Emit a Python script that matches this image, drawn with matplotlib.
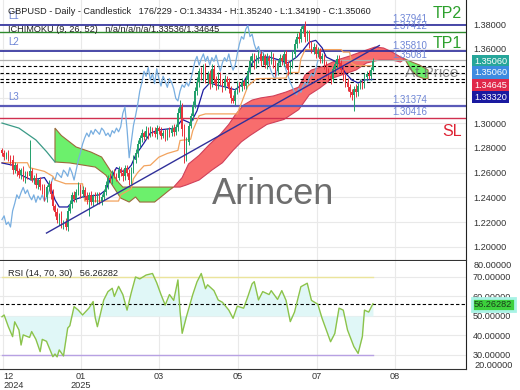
import numpy as np
import matplotlib
matplotlib.use("Agg")
import matplotlib.pyplot as plt

plt.rcParams['font.family'] = ['Liberation Sans', 'DejaVu Sans']

# GBPUSD daily closes, visible window (176 bars)
closes = [
    1.2760, 1.2730, 1.2750, 1.2720, 1.2700, 1.2620, 1.2660, 1.2610, 1.2580, 1.2620,
    1.2550, 1.2590, 1.2570, 1.2610, 1.2540, 1.2560, 1.2500, 1.2540, 1.2480, 1.2470,
    1.2400, 1.2480, 1.2510, 1.2430, 1.2330, 1.2280, 1.2220, 1.2250, 1.2180, 1.2200,
    1.2160, 1.2290, 1.2350, 1.2420, 1.2390, 1.2440, 1.2480, 1.2430, 1.2460, 1.2410,
    1.2380, 1.2420, 1.2360, 1.2410, 1.2380, 1.2420, 1.2370, 1.2400, 1.2440, 1.2500,
    1.2560, 1.2540, 1.2600, 1.2580, 1.2560, 1.2620, 1.2600, 1.2570, 1.2640, 1.2600,
    1.2540, 1.2620, 1.2700, 1.2760, 1.2830, 1.2880, 1.2920, 1.2890, 1.2940, 1.2910,
    1.2950, 1.2930, 1.2910, 1.2960, 1.2940, 1.2900, 1.2920, 1.2890, 1.2940, 1.2920,
    1.2960, 1.2930, 1.2970, 1.3080, 1.3130, 1.2950, 1.2720, 1.2850, 1.2980, 1.3060,
    1.3150, 1.3260, 1.3330, 1.3420, 1.3380, 1.3450, 1.3350, 1.3400, 1.3320, 1.3440,
    1.3360, 1.3300, 1.3380, 1.3340, 1.3290, 1.3360, 1.3330, 1.3280, 1.3200, 1.3180,
    1.3260, 1.3310, 1.3290, 1.3330, 1.3300, 1.3350, 1.3420, 1.3500, 1.3540, 1.3470,
    1.3520, 1.3560, 1.3500, 1.3540, 1.3470, 1.3530, 1.3500, 1.3550, 1.3480, 1.3420,
    1.3490, 1.3530, 1.3500, 1.3560, 1.3480, 1.3430, 1.3470, 1.3560, 1.3640, 1.3700,
    1.3680, 1.3760, 1.3790, 1.3700, 1.3720, 1.3640, 1.3590, 1.3620, 1.3560, 1.3580,
    1.3520, 1.3540, 1.3470, 1.3420, 1.3380, 1.3360, 1.3440, 1.3480, 1.3520, 1.3490,
    1.3430, 1.3380, 1.3330, 1.3290, 1.3250, 1.3230, 1.3280, 1.3250, 1.3300, 1.3330,
    1.3310, 1.3370, 1.3400, 1.3380, 1.3433, 1.3506,
]
first_open = 1.2780

# wick lengths in pips above / below the body
up_wick = [
    20, 25, 15, 30, 20, 40, 25, 20, 30, 15, 35, 20, 25, 250, 30, 20, 35, 15, 25, 30,
    40, 20, 30, 25, 35, 20, 30, 25, 40, 20, 35, 30, 25, 20, 35, 30, 40, 25, 30, 20,
    30, 25, 35, 20, 30, 25, 20, 30, 25, 35, 20, 40, 25, 30, 20, 35, 25, 30, 20, 25,
    30, 25, 40, 30, 35, 25, 30, 20, 35, 25, 30, 20, 35, 25, 20, 30, 25, 35, 20, 30,
    25, 30, 20, 40, 60, 30, 40, 35, 30, 25, 30, 35, 40, 30, 35, 30, 40, 25, 30, 35,
    30, 25, 35, 30, 20, 30, 25, 35, 20, 30, 25, 30, 20, 35, 25, 30, 35, 40, 30, 25,
    30, 35, 25, 30, 20, 35, 25, 30, 20, 35, 25, 30, 20, 35, 30, 25, 30, 35, 40, 30,
    35, 30, 5, 40, 30, 35, 25, 30, 20, 35, 25, 30, 20, 35, 25, 30, 20, 25, 30, 35,
    25, 30, 20, 35, 25, 30, 20, 35, 25, 30, 20, 35, 25, 30, 20, 18,
]
down_wick = [
    25, 30, 20, 25, 35, 30, 20, 35, 25, 30, 20, 35, 25, 30, 20, 35, 25, 30, 20, 40,
    30, 35, 25, 40, 30, 35, 25, 40, 30, 35, 25, 30, 20, 35, 25, 30, 20, 35, 25, 30,
    30, 130, 25, 30, 20, 35, 25, 30, 20, 25, 30, 20, 35, 25, 30, 20, 25, 35, 30, 25,
    40, 30, 25, 20, 30, 25, 35, 30, 20, 35, 25, 30, 20, 35, 25, 30, 20, 35, 25, 30,
    20, 35, 25, 30, 40, 50, 40, 30, 25, 20, 35, 25, 30, 40, 30, 35, 25, 30, 40, 30,
    35, 30, 25, 30, 35, 25, 30, 35, 40, 20, 30, 25, 35, 30, 25, 20, 30, 25, 35, 30,
    25, 30, 35, 30, 25, 30, 35, 25, 30, 40, 30, 25, 30, 35, 30, 40, 30, 25, 30, 35,
    30, 25, 30, 40, 35, 30, 25, 30, 35, 25, 30, 35, 30, 40, 35, 40, 30, 25, 30, 35,
    30, 35, 40, 30, 35, 40, 130, 35, 30, 25, 30, 25, 30, 25, 30, 14,
]

# Ichimoku (9, 26, 52) lines, read at bar positions
tenkan_x = [0, 5, 9, 14, 20, 23, 25, 27, 31, 34, 38, 46, 49, 51, 54, 58, 61, 63, 67, 70,
            74, 82, 85, 89, 92, 95, 98, 101, 106, 110, 113, 116, 118, 121, 126, 131, 135,
            139, 142, 145, 148, 151, 153, 156, 159, 162, 165, 168, 171, 175]
tenkan = [1.2678, 1.2660, 1.2580, 1.2540, 1.2560, 1.2480, 1.2380, 1.2322, 1.2322, 1.2380,
          1.2403, 1.2420, 1.2460, 1.2540, 1.2640, 1.2600, 1.2660, 1.2740, 1.2840, 1.2920,
          1.2945, 1.2960, 1.3030, 1.3000, 1.3100, 1.3270, 1.3325, 1.3310, 1.3290, 1.3270,
          1.3310, 1.3390, 1.3487, 1.3527, 1.3535, 1.3510, 1.3487, 1.3535, 1.3590, 1.3656,
          1.3670, 1.3610, 1.3535, 1.3510, 1.3487, 1.3406, 1.3350, 1.3325, 1.3350, 1.33536]

kijun_x = [0, 12, 13, 20, 24, 25, 30, 38, 39, 55, 56, 61, 62, 64, 67, 70, 74, 78, 83, 84,
           89, 90, 93, 96, 111, 112, 114, 116, 118, 120, 134, 135, 140, 141, 143, 160, 161,
           164, 165, 167, 175]
kijun = [1.2680, 1.2680, 1.2640, 1.2610, 1.2570, 1.2540, 1.2510, 1.2510, 1.2370, 1.2370,
         1.2420, 1.2470, 1.2550, 1.2600, 1.2655, 1.2660, 1.2725, 1.2755, 1.2780, 1.2860,
         1.2870, 1.2940, 1.3060, 1.3075, 1.3075, 1.3120, 1.3210, 1.3300, 1.3330, 1.3360,
         1.3365, 1.3410, 1.3410, 1.3520, 1.3595, 1.3595, 1.3575, 1.3575, 1.3485, 1.34645,
         1.34645]

span_a_x = [25, 28, 35, 42, 47, 51, 55, 57, 65, 73, 81, 84, 87, 93, 99, 104, 109, 113, 117,
            125, 133, 140, 145, 150, 156, 162, 167, 172, 178, 184, 188, 190, 194, 197, 201]
span_a = [1.2960, 1.2900, 1.2807, 1.2766, 1.2726, 1.2620, 1.2520, 1.2483, 1.2483, 1.2483,
          1.2483, 1.2483, 1.2500, 1.2540, 1.2620, 1.2680, 1.2780, 1.2850, 1.2900, 1.2990,
          1.3030, 1.3110, 1.3230, 1.3285, 1.3365, 1.3400, 1.3430, 1.3487, 1.3511, 1.3511,
          1.3495, 1.3520, 1.3490, 1.3470, 1.3430]

span_b_x = [0, 8, 16, 21, 25, 32, 44, 49, 52, 56, 60, 63, 65, 72, 75, 79, 81, 85, 88, 93,
            98, 103, 107, 110, 114, 118, 122, 128, 134, 140, 143, 146, 152, 158, 164, 168,
            172, 176, 180, 184, 188, 190, 193, 196, 199, 201]
span_b = [1.3001, 1.2960, 1.2864, 1.2770, 1.2686, 1.2678, 1.2645, 1.2580, 1.2500, 1.2394,
          1.2362, 1.2403, 1.2362, 1.2362, 1.2403, 1.2459, 1.2483, 1.2560, 1.2670, 1.2740,
          1.2830, 1.2910, 1.2990, 1.3066, 1.3147, 1.3187, 1.3204, 1.3220, 1.3252, 1.3292,
          1.3390, 1.3430, 1.3462, 1.3511, 1.3543, 1.3568, 1.3592, 1.3616, 1.3608, 1.3576,
          1.3535, 1.3520, 1.3430, 1.3380, 1.3360, 1.3360]

# RSI (14)
rsi_x = [0, 1, 3, 5, 6, 8, 9, 10, 13, 14, 16, 18, 19, 21, 24, 25, 26, 27, 29, 31, 32, 34,
         36, 38, 41, 43, 44, 45, 48, 50, 52, 53, 55, 57, 59, 61, 63, 65, 68, 71, 73, 75,
         77, 79, 81, 83, 84, 85, 87, 90, 92, 94, 96, 97, 100, 102, 104, 107, 109, 111,
         114, 116, 118, 119, 121, 123, 126, 127, 130, 132, 134, 136, 138, 141, 144, 146,
         149, 151, 155, 157, 159, 161, 163, 166, 168, 170, 171, 173, 175]
rsi = [49.6, 50.5, 44.5, 39.4, 47.0, 42.8, 35.1, 40.3, 39.0, 42.0, 38.0, 31.7, 38.0, 37.0,
       29.1, 30.5, 29.0, 32.6, 29.5, 43.8, 45.0, 54.8, 53.0, 50.5, 54.0, 57.4, 49.0, 44.5,
       58.2, 62.5, 64.2, 60.0, 65.2, 61.0, 53.0, 62.0, 70.0, 69.0, 71.0, 71.8, 67.0, 61.0,
       55.6, 61.0, 58.0, 68.5, 52.4, 41.1, 49.6, 61.0, 67.5, 71.8, 64.0, 66.0, 63.0, 58.2,
       57.0, 53.0, 48.8, 55.0, 54.0, 60.0, 66.5, 67.6, 58.2, 62.5, 61.0, 63.0, 58.5, 63.0,
       58.0, 47.1, 52.0, 65.0, 66.8, 58.0, 56.0, 48.8, 36.8, 41.0, 54.0, 53.0, 42.8, 34.3,
       30.8, 39.4, 53.0, 52.0, 56.26282]
rsi_last = 56.26282

trend_x = [21, 178]
trend_y = [1.2111, 1.3628]

level_values = [1.37941, 1.37412, 1.35810, 1.35081, 1.31374, 1.30416]
dashed_levels = [1.34645, 1.34030, 1.33536, 1.33320]

price_ticks = [1.20, 1.22, 1.24, 1.26, 1.28, 1.30, 1.32, 1.34, 1.36, 1.38]
hidden_ticks = [1.32, 1.34]  # covered by the price boxes
rsi_ticks = [30, 40, 50, 60, 70]
xtick_pos = [0.5, 37.3, 74.1, 111.3, 148.6, 185.4]
xtick_labels = ['12\n2024', '01\n2025', '03', '05', '07', '08']

# ---------------------------------------------------------------
opens = [first_open] + closes[:-1]
o = np.array(opens)
c = np.array(closes)
highs = np.maximum(o, c) + np.array(up_wick) / 1e4
lows = np.minimum(o, c) - np.array(down_wick) / 1e4
bars = np.arange(len(closes))

fig = plt.figure(figsize=(5.2, 3.9), dpi=100)
ax = fig.add_axes([0, 1 - 260 / 390, 466 / 520, 260 / 390])
ax2 = fig.add_axes([0, 21 / 390, 466 / 520, 108 / 390])

xlim = (-0.94, 218.9)
ax.set_xlim(*xlim)
ax.set_ylim(1.1893, 1.39964)
ax2.set_xlim(*xlim)
ax2.set_ylim(22.8, 78.2)

grid_c = '#e9e9e9'
for a in (ax, ax2):
    a.set_xticks(xtick_pos)
    a.grid(True, color=grid_c, lw=0.8, zorder=0)
    a.set_axisbelow(True)
    for s in ('left', 'top'):
        a.spines[s].set_visible(False)
    a.spines['right'].set_color('#222222')
    a.spines['bottom'].set_color('#333333')
    a.yaxis.tick_right()
    a.tick_params(axis='y', length=0, pad=5, labelsize=6.6, labelcolor='#333333')
    a.tick_params(axis='x', length=0)

ax.set_yticks(price_ticks)
ax.set_yticklabels(['' if t in hidden_ticks else '%.5f' % t for t in price_ticks])
ax.tick_params(axis='x', labelbottom=False)

# cloud
sa_x, sa = np.array(span_a_x), np.array(span_a)
sb_x, sb = np.array(span_b_x), np.array(span_b)


def cloud(lo, hi, top_x, top_y, bot_x, bot_y, fc, ec):
    mt = (top_x >= lo) & (top_x <= hi)
    mb = (bot_x >= lo) & (bot_x <= hi)
    px = np.concatenate([top_x[mt], bot_x[mb][::-1]])
    py = np.concatenate([top_y[mt], bot_y[mb][::-1]])
    ax.fill(px, py, facecolor=fc, edgecolor=ec, lw=0.8, zorder=1)


cloud(25, 81, sa_x, sa, sb_x, sb, '#6cf06c', '#9a6a3a')
cloud(81, 190, sb_x, sb, sa_x, sa, '#f86d6d', '#d0405a')
cloud(190, 201, sa_x, sa, sb_x, sb, '#6cf06c', '#9a6a3a')
mb0 = sb_x <= 25
ax.plot(sb_x[mb0], sb[mb0], color='#3a9a86', lw=0.9, zorder=2)

# levels
ax.axhline(level_values[0], color='#2a2a9a', lw=1.2, zorder=2)
ax.axhline(level_values[1], color='#2e8b2e', lw=1.0, zorder=2)
ax.axhline(level_values[2], color='#2a2a9a', lw=1.2, zorder=2)
ax.axhline(level_values[3], color='#b0b0b0', lw=0.9, zorder=2)
ax.axhline(level_values[4], color='#5a5ab8', lw=1.6, zorder=2)
ax.axhline(level_values[5], color='#d03050', lw=1.0, zorder=2)
for lv in dashed_levels:
    ax.axhline(lv, color='black', lw=0.8, ls=(0, (3, 2)), zorder=2)

# ichimoku lines
ax.plot(bars[26:] - 26, c[26:], color='#78aee0', lw=0.9, zorder=3)
ax.plot(kijun_x, kijun, color='#f2a35e', lw=0.9, zorder=3)
ax.plot(tenkan_x, tenkan, color='#1c1ca0', lw=0.9, zorder=3)

# candles
col = np.where(c >= o, '#22a06b', '#e8333c')
ax.vlines(bars, lows, highs, colors=col, lw=0.7, zorder=4)
ax.bar(bars, np.maximum(np.abs(c - o), 0.0003), bottom=np.minimum(o, c), width=0.65,
       color=col, lw=0, zorder=4)

ax.plot(trend_x, trend_y, color='#30309a', lw=1.0, zorder=5)

# labels on the price panel
lab_c = '#6f86d6'
for name, lv in (('L1', level_values[0]), ('L2', level_values[2]), ('L3', level_values[4])):
    ax.annotate(name, (2.8, lv), xytext=(0, 3), textcoords='offset points',
                fontsize=7, color=lab_c, va='bottom', ha='left', zorder=6)
for lv in level_values:
    ax.annotate('%.5f' % lv, (184, lv), xytext=(0, 0.5), textcoords='offset points',
                fontsize=7, color=lab_c, va='bottom', ha='left', zorder=6)

ax.text(0.991, 1 - 14 / 260, 'TP2', transform=ax.transAxes, fontsize=11.5,
        color='#2ca02c', ha='right', va='center', zorder=6)
ax.text(0.991, 1 - 44 / 260, 'TP1', transform=ax.transAxes, fontsize=11.5,
        color='#2ca02c', ha='right', va='center', zorder=6)
ax.text(0.991, 1 - 131 / 260, 'SL', transform=ax.transAxes, fontsize=11.5,
        color='#dd2233', ha='right', va='center', zorder=6)
ax.text(0.927, 1 - 73 / 260, 'At Price', transform=ax.transAxes, fontsize=11,
        color='#707070', alpha=0.8, ha='center', va='center', zorder=6)
ax.text(0.586, 0.25, 'Arincen', transform=ax.transAxes, fontsize=26,
        color='#6e6e6e', ha='center', va='center', zorder=6)

ax.text(8 / 466, 1 - 12 / 260,
        'GBPUSD - Daily - Candlestick   176/229 - O:1.34334 - H:1.35240 - L:1.34190 - C:1.35060',
        transform=ax.transAxes, fontsize=6.6, color='#222222', va='center', ha='left', zorder=7)
ax.text(8 / 466, 1 - 29 / 260, 'ICHIMOKU (9, 26, 52)   n/a/n/a/n/a/1.33536/1.34645',
        transform=ax.transAxes, fontsize=6.6, color='#222222', va='center', ha='left', zorder=7)

# price boxes on the right axis
boxes = [('1.35060', '#26a69a', 61), ('1.35060', '#3d8be0', 72.5),
         ('1.34645', '#e0284a', 85), ('1.33320', '#1a1aa0', 97)]
for txt, fc, ypx in boxes:
    fig.text(474 / 520, 1 - ypx / 390, txt, fontsize=6.6, color='white', ha='left',
             va='center', bbox=dict(boxstyle='square,pad=0.2', fc=fc, ec='none'))

# RSI panel
rx, rv = np.array(rsi_x), np.array(rsi)
ax2.fill_between(rx, rv, 50, color='#e0f7f7', lw=0, zorder=1)
ax2.plot([0, 175], [70, 70], color='#ebe49c', lw=1, zorder=2)
ax2.plot([0, 175], [30, 30], color='#b7a1e3', lw=1, zorder=2)
ax2.axhline(rsi_last, color='black', lw=0.8, ls=(0, (3, 2)), zorder=2)
ax2.plot(rx, rv, color='#8bc34a', lw=1, zorder=3)
ax2.spines['top'].set_visible(False)
ax2.set_yticks(rsi_ticks)
ax2.set_yticklabels(['%.5f' % v for v in rsi_ticks])
ax2.set_xticklabels(xtick_labels, fontsize=6.6, color='#333333', linespacing=1.0)
ax2.tick_params(axis='x', pad=2)
ax2.get_xticklabels()[0].set_ha('left')
ax2.text(8 / 466, 1 - 12 / 108, 'RSI (14, 70, 30)   %.5f' % rsi_last,
         transform=ax2.transAxes, fontsize=6.6, color='#222222', va='center', ha='left')

fig.text(474 / 520, 1 - 265 / 390, '80.00000', fontsize=6.6, color='#333333', va='center')
fig.text(474 / 520, 1 - 366 / 390, '20.00000', fontsize=6.6, color='#333333', va='center')
fig.text(474 / 520, 1 - 304.5 / 390, '%.5f' % rsi_last, fontsize=6.6, color='#1a3a1a',
         ha='left', va='center',
         bbox=dict(boxstyle='square,pad=0.25', fc='#3ccf3c', ec='#a8f3e6', lw=2))

fig.savefig('out.png', dpi=100)
